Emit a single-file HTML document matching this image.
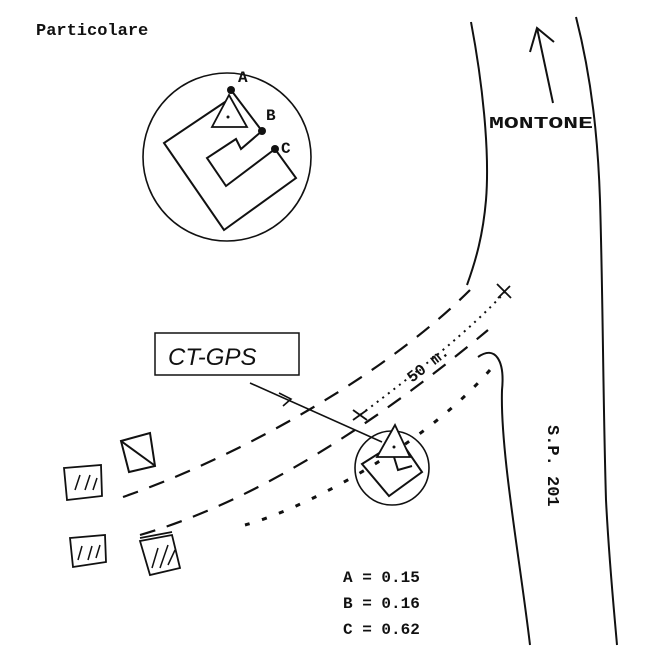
<!DOCTYPE html>
<html><head><style>body{margin:0;background:#fff}svg{display:block}</style></head><body>
<svg width="649" height="649" viewBox="0 0 649 649" xmlns="http://www.w3.org/2000/svg" font-family="Liberation Mono, monospace" fill="none" stroke="#111" stroke-width="2">
<text x="36" y="35" font-size="17" font-weight="bold" fill="#111" stroke="none">Particolare</text>
<circle cx="227" cy="157" r="84" stroke-width="1.6"/>
<polyline points="228,100 164,143 224,230 296,178 275,149 226,186 207,158 236,139 241,149 262,131 231,90" stroke-width="2"/>
<polygon points="229,95 212,127 247,127" fill="#fff" stroke-width="1.8"/>
<circle cx="228" cy="117" r="1.5" fill="#111" stroke="none"/>
<circle cx="231" cy="90" r="4" fill="#111" stroke="none"/>
<circle cx="262" cy="131" r="4" fill="#111" stroke="none"/>
<circle cx="275" cy="149" r="4" fill="#111" stroke="none"/>
<g fill="#111" stroke="none" font-size="16" font-weight="bold">
<text x="238" y="82">A</text><text x="266" y="120">B</text><text x="281" y="153">C</text>
<text x="489" y="128" font-size="17" textLength="104" lengthAdjust="spacingAndGlyphs">MONTONE</text>
<text x="343" y="582">A = 0.15</text><text x="343" y="608">B = 0.16</text><text x="343" y="634">C = 0.62</text>
<text transform="translate(548,425) rotate(90)" font-size="17">S.P. 201</text>
<text transform="translate(412,383) rotate(-38)" font-size="16">50 m.</text>
</g>
<path d="M471,22 C482,80 490,150 486,200 C483,235 476,260 467,285" stroke-width="2"/>
<path d="M576,17 C592,80 598,140 600,200 C603,300 603,400 606,500 C609,560 614,610 617,645" stroke-width="2"/>
<path d="M478,357 C495,345 505,360 502,390 C500,450 520,560 530,645" stroke-width="2"/>
<path d="M553,103 L537,28 M530,52 L537,28 L554,42" stroke-width="2"/>
<path d="M123,497 C230,460 380,380 470,290" stroke-dasharray="16,12" stroke-width="2.2"/>
<path d="M140,535 C260,500 380,420 488,330" stroke-dasharray="16,12" stroke-width="2.2"/>
<path d="M360,415 C420,370 470,330 505,292" stroke-dasharray="2,5" stroke-width="2"/>
<path d="M353,410 L367,420 M353,420 L367,410 M497,284 L511,298 M498,298 L510,286" stroke-width="1.8"/>
<path d="M245,525 C300,510 420,450 490,370" stroke-dasharray="5,13" stroke-width="3"/>
<rect x="155" y="333" width="144" height="42" stroke-width="1.5"/>
<text x="168" y="365" font-family="Liberation Sans, sans-serif" font-style="italic" font-size="24" fill="#111" stroke="none">CT-GPS</text>
<path d="M250,383 L382,442 M279,393 L291,399 L283,406" stroke-width="1.6"/>
<circle cx="392" cy="468" r="37" stroke-width="1.6"/>
<polygon points="362,464 400,440 422,472 389,496"/>
<polyline points="394,457 398,470 412,466"/>
<polygon points="395,425 377,457 410,457" fill="#fff" stroke-width="1.8"/>
<circle cx="394" cy="447" r="1.5" fill="#111" stroke="none"/>
<polygon points="121,441 150,433 155,466 129,472"/>
<line x1="121" y1="441" x2="154" y2="465"/>
<g stroke-width="1.8">
<polygon points="64,468 101,465 102,496 67,500"/>
<polygon points="70,538 105,535 106,562 73,567"/>
<polygon points="140,541 172,535 180,568 150,575"/>
<line x1="140" y1="538" x2="172" y2="532"/>
<path d="M75,490 L80,475 M85,490 L90,475 M93,490 L97,478 M78,560 L82,546 M88,560 L92,546 M96,558 L100,545 M152,568 L158,548 M160,568 L168,545 M168,565 L175,550" stroke-width="1.5"/>
</g>
</svg>
</body></html>
